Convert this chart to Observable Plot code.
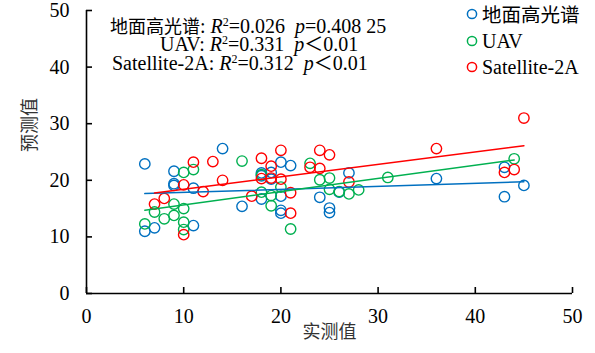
<!DOCTYPE html>
<html>
<head>
<meta charset="utf-8">
<script src="https://cdn.jsdelivr.net/npm/d3@7"></script>
<script src="https://cdn.jsdelivr.net/npm/@observablehq/plot@0.6"></script>
<style>
  html, body { margin: 0; padding: 0; background: #fff; }
  #wrap { position: relative; width: 595px; height: 353px; font-family: "Liberation Serif", serif; color: #000; }
  #wrap > svg { position: absolute; left: 0; top: 0; }
  .ann { position: absolute; white-space: pre; font-family: "Liberation Serif", serif; font-size: 20px; line-height: 18px; }
  .ann .cjk { font-family: "Noto Sans CJK SC", sans-serif; font-size: 18px; }
  .ann sup { font-size: 0.6em; line-height: 0; vertical-align: 0.55em; }
  .ann .lt { font-family: "Noto Sans CJK SC", sans-serif; font-size: 19px; }
  .leg { position: absolute; left: 466px; height: 20px; font-family: "Liberation Serif", serif; font-size: 20px; line-height: 20px; white-space: pre; display: flex; align-items: center; }
  .leg .cjk { font-family: "Noto Sans CJK SC", sans-serif; font-size: 19.5px; }
  .leg svg { display: block; margin-right: 4px; }
</style>
</head>
<body>
<div id="wrap"></div>
<script>
// ---- data ----
const seriesNames = ["地面高光谱", "UAV", "Satellite-2A"];
const seriesColors = ["#0070C0", "#00B050", "#FF0000"];

const groundX = [6, 6, 7, 9, 9, 9, 11, 11, 14, 16, 18, 18, 18, 19, 19, 20, 20, 20, 20, 21, 24, 25, 25, 26, 27, 36, 43, 43, 45];
const groundY = [22.9, 11, 11.6, 21.6, 19.4, 19.1, 18.6, 12, 25.6, 15.4, 21.3, 20.8, 16.7, 21.4, 20.2, 23.2, 17.2, 14.7, 14.2, 22.6, 17, 15.1, 14.3, 17.9, 21.3, 20.3, 22.3, 17.1, 19.1];

const uavX = [6, 7, 8, 9, 9, 10, 10, 10, 10, 11, 16, 18, 18, 19, 19, 20, 21, 23, 24, 25, 25, 26, 27, 28, 31, 44];
const uavY = [12.3, 14.4, 13.2, 15.8, 13.8, 21.4, 15, 12.6, 11.3, 21.9, 23.4, 21.0, 17.9, 17.3, 15.5, 18.8, 11.4, 23.0, 20.1, 20.4, 18.4, 18.0, 17.6, 18.3, 20.5, 23.8];

const satX = [7, 8, 10, 10, 11, 12, 13, 14, 17, 18, 18, 19, 19, 20, 20, 21, 21, 23, 24, 24, 25, 27, 36, 43, 44, 45];
const satY = [15.8, 16.8, 19.2, 10.4, 23.2, 18, 23.3, 20, 17.2, 23.9, 20.3, 22.5, 20.4, 25.3, 20.2, 17.8, 14.2, 22.3, 25.3, 22.1, 24.5, 19.7, 25.6, 21.4, 21.9, 31];

const xTicks = [0, 10, 20, 30, 40, 50];
const yTicks = [0, 10, 20, 30, 40, 50];
const xTitle = "实测值";
const yTitle = "预测值";

const statLines = [
  {name: "地面高光谱", r2: "0.026", op: "=", p: "0.408 25"},
  {name: "UAV", r2: "0.331", op: "＜", p: "0.01"},
  {name: "Satellite-2A", r2: "0.312", op: "＜", p: "0.01"}
];

// ---- build tidy table ----
const table = [];
[[groundX, groundY], [uavX, uavY], [satX, satY]].forEach(([xs, ys], i) => {
  xs.forEach((x, j) => table.push({series: seriesNames[i], x, y: ys[j]}));
});

const serif = "Liberation Serif";
const cjk = "Noto Sans CJK SC";
const W = 595, H = 353, mT = 10, mR = 23, mB = 60, mL = 86, tickLen = 6;
const frameW = W - mL - mR, frameH = H - mT - mB;

const chart = Plot.plot({
  width: W,
  height: H,
  marginTop: mT,
  marginRight: mR,
  marginBottom: mB,
  marginLeft: mL,
  style: {fontFamily: serif, fontSize: "20px", color: "#000", background: "transparent"},
  x: {domain: [0, 50]},
  y: {domain: [0, 50]},
  color: {domain: seriesNames, range: seriesColors},
  marks: [
    // inward tick marks
    Plot.tickX(xTicks, {x: d => d, stroke: "#000", strokeWidth: 1.6, insetTop: frameH - tickLen}),
    Plot.tickY(yTicks, {y: d => d, stroke: "#000", strokeWidth: 1.6, insetRight: frameW - tickLen}),
    Plot.ruleX([0], {stroke: "#000", strokeWidth: 1.6}),
    Plot.ruleY([0], {stroke: "#000", strokeWidth: 1.6}),
    Plot.axisX({ticks: xTicks, tickSize: 0, tickPadding: 15, tickFormat: d => String(d), label: null, fontFamily: serif, fontSize: 20}),
    Plot.axisY({ticks: yTicks, tickSize: 0, tickPadding: 17, tickFormat: d => String(d), label: null, fontFamily: serif, fontSize: 20}),
    Plot.dot(table, {x: "x", y: "y", stroke: "series", r: 5.2, strokeWidth: 1.4, fill: "none"}),
    Plot.linearRegressionY(table, {x: "x", y: "y", stroke: "series", z: "series", ci: 0, strokeWidth: 1.5}),
    Plot.text([yTitle], {text: d => d, frameAnchor: "left", dx: -56, rotate: -90, fontFamily: cjk, fontSize: 18, fill: "#333"}),
    Plot.text([xTitle], {text: d => d, frameAnchor: "bottom", dy: 44, fontFamily: cjk, fontSize: 18, fill: "#333"})
  ]
});

d3.select(chart).selectAll('g[aria-label$="tick label"]').attr("font-family", serif).attr("font-size", 20);

const wrap = document.getElementById("wrap");
wrap.appendChild(chart);

// ---- annotation (regression statistics) ----
const annPos = [[110, 16], [160, 34], [112, 53]];
statLines.forEach((s, i) => {
  const div = document.createElement("div");
  div.className = "ann";
  div.style.left = annPos[i][0] + "px";
  div.style.top = annPos[i][1] + "px";
  const nameHtml = /[\u4e00-\u9fff]/.test(s.name) ? `<span class="cjk">${s.name}</span>` : s.name;
  const opHtml = s.op === "=" ? "=" : `<span class="lt">${s.op}</span>`;
  div.innerHTML = `${nameHtml}: <i>R</i><sup>2</sup>=${s.r2}  <i>p</i>${opHtml}${s.p}`;
  wrap.appendChild(div);
});

// ---- legend ----
const legTops = [4, 30.7, 56.7];
seriesNames.forEach((name, i) => {
  const div = document.createElement("div");
  div.className = "leg";
  div.style.top = legTops[i] + "px";
  const nameHtml = /[\u4e00-\u9fff]/.test(name) ? `<span class="cjk">${name}</span>` : name;
  div.innerHTML = `<svg width="12" height="12"><circle cx="6" cy="6" r="4.6" fill="none" stroke="${seriesColors[i]}" stroke-width="1.5"/></svg>${nameHtml}`;
  wrap.appendChild(div);
});
</script>
</body>
</html>
